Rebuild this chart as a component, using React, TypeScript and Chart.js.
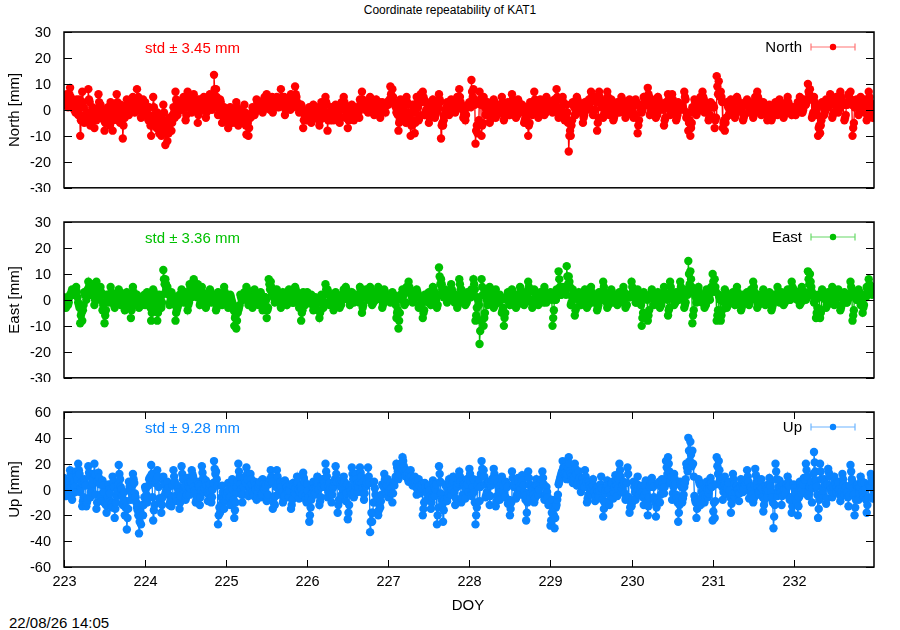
import React, { useEffect, useRef } from "react";
import { Chart, registerables } from "chart.js";

Chart.register(...registerables);

const FONT = "'Liberation Sans', Arial, sans-serif";
Chart.defaults.font.family = FONT;
Chart.defaults.color = "#000";

// time axis: first day of year and samples per day in each array
const startDoy = 223;
const samplesPerDay = 40;
const doyTicks = [223, 224, 225, 226, 227, 228, 229, 230, 231, 232];
const neTicks = [-30, -20, -10, 0, 10, 20, 30];
const upTicks = [-60, -40, -20, 0, 20, 40, 60];

// residuals in mm, one row per day; three interleaved sample sets per component
const north = [
  2, 5, 1, 8.5, 4, 0, 3, -2, -10, 7, -5, -3, 8, -6, 1, -7, -4, 6, 2, -3, -8, 0, -5, 3, -8, -1, 6, -4, 2, -11, -3, 4, -2, 1, 5, -1, 8, 2, -3, 4,
  3, -2, 1, -10, 5, -4, -1, -9, -10, 2, -13.5, -12, -3, -8, 1, 7, -2, 3, 0, 5, -4, 7, 2, -1, 6, 3, -5, 4, 1, 5, -3, 2, 6, 0, 13.5, 8, -2, 4, -5, 1,
  -3, -7, 1, -5, -2, 3, -6, 0, -4, 2, -9.5, -10, -3, 1, -2, 4, 0, 3, -1, 5, 6, 2, 4, -1, 3, 5, 1, 8, 3, -2, 4, 2, 6, 1, 9, 3, -1, 2, -7, -3,
  -2, 1, -5, 2, -3, 0, -6, 3, -1, 5, -8, -2, 1, -4, 2, -1, -5, 3, 5, -3, -7, 0, 2, -4, 1, -2, 4, 7, 1, 3, -1, 5, 2, -2, 4, 1, -3, 3, 0, 2,
  2, 9, 8, 3, -1, -8, 4, 1, -3, 5, -2, -10, 2, -9, 5, -4, 6, 7, -2, 3, -5, 1, 4, -3, 2, 6, -11, -6, 0, 3, -2, 4, 1, -1, 5, 8, 2, -3, -4, 1,
  3, 11.5, 8, -13, -9, 7, -10, 5, -2, 3, -5, 1, 4, -3, 2, -1, 5, -4, 0, 3, -2, 6, 1, -3, 4, -1, 2, -5, 1, -10, 3, -2, 7, 0, -3, 4, 1, -2, 5, 2,
  2, -1, 4, 8, -3, 1, 5, -4, 2, -16, -10, 3, -2, 5, -1, 2, -5, 3, 0, 4, 7, -2, 5, -8, 7, 1, -3, 3, 7, -2, 4, -4, 1, 3, -1, 5, 2, -3, 0, 4,
  1, -3, 4, -9, 2, -1, 5, 3, 8.5, -2, 4, 1, -3, 5, 0, 2, -6, 3, 6, -2, 6, 1, -4, 3, 0, 2, 7, -3, -8, -10, 1, 4, -2, 3, 5, 7, -1, 2, -4, 3,
  2, -7, 13, 11, 7, -7, -8, 3, -2, 4, 1, -3, 5, 0, 2, -4, 3, 4, -1, 2, -3, 5, 7, 1, -2, 3, 0, -4, 2, -4, 1, 3, -2, 4, 0, -3, 2, 5, 1, -2,
  1, -2, 3, 5, -1, 4, 2, 10, 8, -3, 5, 1, -10, -9, 3, -2, 4, 1, 6, -3, 2, 5, -1, 7, 3, -4, 2, 6, 7, -10, 1, 4, -2, 5, 3, -1, -4, 7, 0, -3,
];
const northB = [
  3, 6, 2, 5, 2, 1, 4, 0, -4, 3, -2, -4, 4, -3, 0, -3, -1, 3, 0, -2, -5, -1, -3, 1, -4, 0, 3, -2, -1, -6, -1, 2, 0, 2, 3, 0, 4, 3, -1, 1,
  1, -3, -2, -6, 1, -5, -3, -6, -7, -1, -9, -7, -4, -5, -1, 4, 0, 2, 1, 3, -2, 4, 3, 1, 4, 2, -2, 3, 2, 3, -1, 0, 4, 2, 8, 5, 1, 3, -2, -1,
  -2, -5, 0, -3, -4, 1, -4, -2, -3, -1, -6, -7, -2, -1, -1, 3, 1, 2, 0, 3, 4, 1, 3, 1, 2, 3, 2, 5, 2, 0, 2, 1, 4, 3, 6, 2, 0, 1, -4, -2,
  -3, 0, -3, 0, -1, -2, -4, 1, -2, 3, -4, -3, 0, -3, 1, 0, -3, 1, 3, -2, -4, -1, 1, -2, 0, -1, 3, 4, 2, 1, 0, 3, 1, 0, 2, 2, -1, 2, 1, 3,
  3, 6, 5, 2, -1, -5, 2, 0, -4, 3, -1, -6, 0, -5, 3, -3, 4, 5, -1, 2, -3, 0, 3, -2, 1, 4, -6, -4, -1, 2, -1, 2, 1, 0, 3, 5, 1, -2, -2, 2,
  2, 7, 4, -8, -6, 4, -6, 3, -1, 1, -4, 0, 3, -2, 1, 0, 3, -3, 1, 2, -1, 4, 0, -2, 3, 1, 0, -4, 0, -6, 1, 0, 4, 1, -2, 3, 0, -1, 4, 2,
  1, 0, 2, 5, -2, 0, 3, -3, -1, -10, -6, 2, -2, 4, 0, 1, -3, 2, 1, 2, 5, -1, 4, -5, 5, 2, -2, 1, 5, -1, 3, -3, 0, 2, 0, 4, 1, -2, 1, 3,
  0, -2, 3, -6, 1, 0, 4, 2, 6, -1, 3, 0, -2, 4, 1, 1, -4, 2, 4, -1, 4, 0, -3, 2, 1, 1, 5, -2, -5, -7, 0, 3, -1, 2, 4, 5, 0, 1, -3, 2,
  1, -4, 9, 7, 5, -5, -5, 2, -1, 3, 0, -2, 4, 0, 1, -3, 2, 3, 0, 1, -2, 3, 5, 1, -1, 2, 0, -3, 1, -3, 0, 2, -1, 3, 0, -2, 2, 3, 0, -1,
  0, -1, 2, 4, -1, 3, 3, 7, 5, -2, 3, 0, -7, -6, 2, -1, 3, 2, 5, -2, 2, 3, 0, 5, 2, -3, 2, 5, 4, -7, 1, 3, -1, 3, 3, 0, -2, 5, 0, -2,
];
const northC = [
  4, 2, 6, 3, 1, -1, 2, 4, -3, 1, -4, -1, 3, -5, -2, 0, -3, 2, -1, -4, -2, 1, -6, -1, -3, 2, -2, -5, 0, -3, 1, 3, -1, 4, 2, 3, 5, 1, 0, 2,
  -1, -4, -6, -3, -2, -7, -5, -3, -8, -4, -6, -9, -5, -2, -3, 3, 1, 0, 4, 2, 1, 3, 5, 0, 2, 4, -1, 2, 3, 0, 4, 1, 3, 5, 2, 3, -1, 1, -3, -2,
  -1, -4, -2, 0, -5, -3, -1, -4, -2, -6, -5, -3, -1, -2, 0, 2, 3, 1, 4, 2, 3, 0, 5, 2, 1, 4, 3, 2, 5, 1, 3, 0, 4, 2, 5, 1, 2, 0, -2, -4,
  -1, -3, 0, -2, 1, -4, -2, 0, -3, 2, -1, -4, 0, -2, -1, 1, -3, 0, 2, -1, -4, -2, 1, -1, 0, -3, 2, 3, 0, 2, 1, 3, -1, 2, 0, 3, 1, 2, -1, 3,
  4, 5, 3, 1, -2, -4, 0, -1, -5, 2, -3, -6, -1, -4, 1, -2, 3, 4, 0, 1, -2, 0, 2, -1, 1, 3, -5, -2, 1, 2, 0, 3, 2, 1, 4, 3, 0, -1, 1, 2,
  1, 5, 2, -6, -4, 2, -5, 1, 0, 2, -3, -1, 2, -2, 0, 1, 3, -2, -1, 2, 0, 3, -1, -2, 2, 0, 1, -3, -2, -5, 0, 1, 3, -1, -2, 2, 0, -1, 3, 1,
  0, 1, 3, 4, -1, -2, 2, -3, -5, -8, -4, 1, -1, 3, 0, 1, -2, 2, 1, 3, 4, 0, 3, -3, 4, 2, -1, 2, 4, 0, 2, -2, 0, 2, 1, 3, 0, -2, 1, 2,
  -1, -2, 2, -4, 0, 1, 3, 2, 5, 0, 2, -1, -2, 3, 1, 0, -3, 1, 3, 0, 3, -1, -2, 1, 2, 0, 4, -1, -4, -5, -1, 2, 0, 1, 3, 4, 1, 0, -2, 1,
  1, -3, 6, 5, 3, -4, -3, 1, 0, 2, -1, 0, 3, 1, -1, -2, 2, 1, 0, 3, -1, 2, 4, 2, 0, 1, -1, -2, 1, -2, 2, 1, 0, 2, -1, -1, 3, 2, 0, -1,
  0, 1, 2, 3, 0, 2, 4, 6, 4, -1, 2, -2, -6, -4, 1, 0, 2, 3, 4, -1, 3, 2, 1, 4, 2, -2, 3, 4, 2, -5, 2, 3, 0, 2, 4, 1, -1, 3, 1, -1,
];

const east = [
  1, -3, -2, 2, 4, 3, 5, -1, -9, -8, 3, 0, 7, 2, 6, -2, 7, 1, 5, -4, -9, 2, -1, 5, 0, -3, 2, 4, -2, 1, -4, 3, 0, -7, 5, -1, 2, -3, 1, 0,
  -2, 3, 0, -8, 4, 1, -8, 2, -3, 11.5, 8, 5, -2, 3, 0, -8, -3, 2, 4, -1, 3, -4, 6, 1, 8, 2, 6, -2, 5, 0, -3, 2, 4, -1, 1, -4, 3, 0, -2, 5,
  1, -3, 2, -1, -10, -11, -4, 2, 0, 3, 5, -2, 1, -3, 4, 0, -2, 3, -4, 1, -7, 8, 7, 2, -1, 4, 1, -3, 3, 0, -2, 4, 1, -1, 5, 2, -3, -8, 3, -2,
  3, -1, 2, -4, 1, 0, -7, 2, -3, 6, 4, -2, 1, -4, 3, 0, -3, 2, 4, 5, 1, -2, 3, -1, 2, 0, 5, -5, 2, 4, 1, 5, -2, 3, 0, 5, 2, -3, 4, 1,
  2, -1, 3, 0, -7, -11, 2, 4, -2, 5, 7, 3, -1, 2, 4, -3, 1, -7, 2, 0, 3, -2, 5, 1, -3, 12.5, 8, 2, 4, -1, 3, 6, 0, 2, -3, 8, 4, 1, -2, 3,
  2, 4, 8, -8, 1, -17, 8, -10, 3, -2, 5, 1, -3, 4, 0, 2, -5, -10, 1, 3, -2, 4, 0, -3, 2, 5, 1, -2, 3, 7, 0, -3, 4, 1, -2, 3, 0, 5, -1, 2,
  3, -10, 1, 4, 11, 2, 5, 3, 13, 9, -2, 4, -6, 1, 3, -2, 0, 4, -3, 2, 5, -1, 2, -4, 3, 1, 7, 0, -3, 2, 4, -1, 1, -2, 3, 0, 5, -3, 2, 1,
  7, 2, -1, 4, 0, -10, 3, 1, -8, 2, 4, -2, 1, 3, -3, 0, 5, 2, -6, 7, 1, -2, 3, 0, 7, 2, -3, 4, 15, 11, -9, 3, -1, 5, 0, 2, -3, 4, 1, 3,
  10, 8, -8, 2, -8, 1, 4, -3, 2, 0, 3, -2, 5, 1, -4, 2, 0, 3, -2, 4, 7, 1, -3, 2, 0, 4, -2, 1, 3, -4, 2, 0, 5, -1, 3, -2, 1, 4, 0, 7,
  4, 1, 3, -2, 5, 2, 0, 11, 10, 3, -1, -7, 2, -7, 4, 1, -3, 3, 0, 5, -2, 2, 4, -4, 1, 3, -1, 2, 7, -8, 3, 0, 4, -2, -5, 2, 5, 8, 3, 5,
];
const eastB = [
  0, -2, -1, 2, 3, 4, 3, -2, -6, -4, 2, 2, 5, 2, 5, 0, 4, 1, 3, -2, -6, 1, 0, 3, -1, -2, 1, 3, -1, 0, -3, 2, -1, -4, 3, 0, 1, -2, 0, 1,
  -1, 2, -1, -5, 3, 0, -5, 1, -1, 8, 6, 3, -1, 2, -1, -5, -2, 1, 3, 0, 2, -2, 5, 2, 6, 2, 4, -1, 3, 0, -2, 1, 3, 0, 0, -3, 2, 0, -1, 3,
  0, -2, 1, -2, -7, -8, -3, 1, 0, 2, 4, -1, 1, -2, 3, 0, -1, 2, -3, 1, -4, 6, 5, 1, 0, 3, 0, -2, 2, 0, -1, 3, 0, -1, 4, 1, -2, -5, 1, -1,
  2, 0, 1, -3, 0, -1, -5, 1, -2, 4, 3, -1, 0, -3, 2, 0, -2, 1, 3, 4, 0, -1, 2, 0, 1, 0, 4, -3, 1, 3, 0, 4, -1, 2, 1, 4, 1, -2, 3, 0,
  1, 0, 2, -1, -5, -8, 1, 3, -1, 4, 5, 2, 0, 1, 3, -2, 0, -5, 1, 0, 2, -1, 4, 1, -2, 9, 6, 1, 3, 0, 2, 4, 0, 1, -2, 6, 3, 0, -1, 2,
  1, 3, 6, -6, 0, -12, 5, -7, 1, -1, 3, 0, -2, 2, 0, 1, -4, -7, 0, 2, -1, 3, 0, -2, 1, 4, 0, -1, 2, 5, 0, -2, 3, 0, -1, 2, 0, 3, 0, 1,
  1, -7, 0, 3, 8, 2, 4, 3, 9, 7, -1, 3, -4, 1, 2, -1, 0, 3, -2, 1, 3, 0, 1, -3, 2, 1, 5, 0, -2, 1, 3, 0, 0, -1, 2, 0, 3, -2, 1, 2,
  5, 2, -1, 3, -1, -7, 2, 1, -6, 1, 3, -1, 1, 2, -2, 0, 3, 1, -4, 5, 1, -1, 2, 0, 5, 2, -2, 3, 10, 8, -6, 2, 0, 3, 0, 1, -2, 3, 1, 5,
  7, 5, -6, 1, -6, 0, 3, -2, 1, 0, 2, -1, 3, 1, -3, 1, 0, 2, -1, 3, 5, 1, -2, 1, 0, 3, -1, 1, 2, -3, 1, 0, 3, 0, 2, -1, 1, 3, 0, 5,
  3, 1, 2, -1, 3, 2, 1, 8, 7, 2, 0, -5, 1, -5, 3, 1, -2, 2, 0, 3, -1, 1, 3, -3, 1, 2, -1, 2, 5, -6, 2, 0, 3, -1, -3, 1, 4, 6, 3, 4,
];
const eastC = [
  0, -1, 1, 3, 2, 4, 1, -3, -5, -2, 2, 4, 5, 3, 4, 1, 3, 0, 2, -1, -4, 0, 1, 2, -2, -1, 1, 3, -1, 0, -2, 1, -3, -2, 2, 0, -1, 1, -2, 2,
  0, 1, -3, -4, 2, -2, -4, 0, 2, 6, 4, 2, 0, 1, -2, -4, -1, 1, 2, 0, 2, -1, 4, 3, 5, 1, 3, 0, 2, -1, -1, 1, 2, 0, -1, -2, 1, -1, 0, 2,
  -1, -2, 0, -4, -6, -5, -2, 0, 1, 2, 3, -1, 0, -2, 2, -1, 0, 1, -2, 0, -3, 4, 3, 1, 0, 2, -1, -2, 1, -1, 0, 2, -1, 0, 3, 1, -2, -4, 0, -1,
  1, 0, -2, -3, 0, -1, -4, 0, -1, 3, 2, 0, -1, -2, 1, -1, -2, 0, 2, 3, 0, -1, 2, 0, 1, -1, 3, -2, 1, 2, 0, 3, -1, 1, 2, 3, 0, -1, 2, 0,
  1, 0, 2, -2, -4, -5, 0, 2, -1, 3, 4, 1, 0, 1, 2, -2, -1, -4, 1, -1, 2, 0, 3, 0, 2, 6, 4, 1, 2, 0, 1, 3, -1, 1, -1, 4, 2, 0, -1, 1,
  1, 3, 4, -3, -2, -8, 2, -5, 0, -1, 2, 0, -2, 1, -1, 0, -3, -5, 0, 1, -1, 2, -1, -2, 0, 3, 0, -1, 1, 3, -1, -2, 2, 0, -1, 1, -1, 2, 0, 1,
  0, -4, 0, 2, 5, 3, 4, 2, 6, 5, 1, 2, -3, 0, 1, -1, 1, 2, -2, 0, 2, 0, 1, -2, 1, 0, 3, -1, -2, 1, 2, 0, -1, 0, 1, -1, 2, -2, 1, 2,
  3, 1, 0, 2, -2, -5, 1, 0, -4, 1, 2, -1, 0, 1, -2, 1, 2, 0, -3, 3, 0, -1, 2, 1, 3, 1, -1, 2, 6, 5, -4, 1, 0, 2, -1, 1, -2, 2, 0, 3,
  5, 3, -4, 0, -4, -1, 2, -2, 0, 1, 1, -1, 2, 0, -2, 1, -1, 2, 0, 2, 3, 0, -2, 1, -1, 2, 0, -1, 1, -2, 0, 1, 2, 0, 1, -1, 0, 2, 1, 3,
  2, 0, 1, -1, 2, 3, 1, 6, 5, 2, 0, -3, 1, -4, 2, 0, -2, 1, 1, 2, -1, 1, 2, -2, 0, 2, 0, 1, 3, -4, 1, 0, 2, -1, -2, 1, 3, 5, 2, 3,
];

const up = [
  9, -5, 3, 15, -8, 6, 14, 20, -2, -13, 8, -13, 18, -6, 5, 20, -15, 13, -4, 7, -10, -18, 4, -9, 10, -22, -5, 19, 2, -12, -20, -31, 6, -8, 12, -3, -14, -34, -27, -20,
  2, -10, 8, 19, -24, 5, 15, -7, -18, 10, -3, 6, -12, -13, 15, -5, 3, -15, 18, 0, -8, 9, -4, 15, 2, -10, 6, -12, 18, -2, 7, -9, 4, -6, 22, 14, -27, -18, 3, -15,
  -8, 5, -12, 8, -22, -3, 20, 4, -10, 9, 17, -5, 12, -2, 6, -8, 2, -6, 8, 0, -9, 4, 15, -15, -12, 15, -4, 6, -10, 7, 2, -6, -15, 5, -3, 10, -7, 3, 13, -5,
  4, -25, -8, 6, -3, 10, -12, 2, 8, 20, -6, 5, -10, 3, 18, -18, 7, -4, 10, -9, -23, 2, 17, -6, 12, -2, 17, 5, -8, 3, 17, -33, -25, 6, -10, -20, -14, 4, 12, -3,
  -6, 5, -10, 3, 20, 8, 20, 25, 12, 15, 6, 15, 3, 10, -4, 8, -2, -20, 5, -8, 3, -15, 7, -5, -27, 18, -3, -25, 4, -9, 8, -4, 10, -12, 2, 14, -10, 6, -7, 4,
  16, -5, 8, -27, 3, -9, 22, 15, -6, 4, -12, 7, 16, -13, 5, -8, 10, -3, 6, -11, -20, 14, 2, -7, 9, -4, 11, -2, -24, 14, -6, 3, -10, 8, -4, 6, 14, -8, 2, -12,
  -28, -8, -30, -12, 4, 10, 22, 17, 8, 25, 12, 5, 20, 3, 14, -2, 9, 15, -10, 6, -4, 8, -9, 2, -6, 10, -21, -3, 7, -12, 4, -7, 11, -5, 20, -2, 6, -8, 17, -18,
  -13, 6, -8, 10, -4, 3, -12, 7, -20, 2, 9, -6, -21, 4, -10, 8, -3, 22, 25, 5, -8, 12, -4, -25, 6, -10, 2, 20, 40, 37, 30, -5, -22, 8, -12, 4, -10, 6, -3, 9,
  -24, -22, 25, 22, 6, -8, 10, -3, 5, -18, 12, -6, 3, -9, 8, -2, 4, 15, -7, 2, -10, 16, 5, -4, 8, -17, 3, -6, 9, -2, -30, 20, -5, 7, -12, 4, -3, 10, -8, -18,
  4, -8, -20, 6, -3, 9, 20, -5, 2, -10, 29, 7, -22, 20, -4, 8, -11, 16, 3, -6, 10, -2, 5, -9, 12, -4, 2, -13, 19, 6, -20, 3, -8, 10, -2, 5, -18, 4, 12, -7,
];
const upB = [
  5, 0, 1, 12, -3, 2, 10, 15, 1, -9, 5, -10, 13, -2, 8, 12, -10, 9, -6, 3, -11, -12, 0, -11, 6, -15, -1, 12, 0, -8, -14, -22, 2, -3, 8, -6, -16, -25, -20, -12,
  0, -6, 9, 12, -16, 6, 10, -8, -12, 6, -2, 1, -10, -6, 10, -7, 0, -10, 12, 2, -6, 5, 1, 12, -1, -8, 4, -6, 13, 1, 3, -4, -2, 0, 16, 8, -20, -12, -2, -9,
  -5, 0, -5, 0, -16, 2, 14, 0, -4, 7, 12, -2, 8, -4, 3, -5, 4, -4, 4, 2, -6, 6, 10, -10, -5, 10, -1, 2, -8, 4, -1, -1, -12, 2, 1, 5, -2, 0, 9, -8,
  -1, -20, -3, 1, 1, 5, -9, 5, 5, 14, -2, 1, -4, 6, 12, -12, 4, 1, 6, -3, -18, -1, 12, -2, 8, 2, 13, 1, -3, 5, 10, -25, -18, 1, -8, -16, -9, 3, 8, 3,
  -2, 1, -3, 7, 17, 10, 18, 22, 11, 12, 9, 10, 6, 6, 0, 3, 1, -15, 2, -3, -1, -10, 4, 0, -20, 12, -8, -16, 3, -6, 5, 0, 6, -7, 5, 10, -7, 4, 1, 8,
  12, -2, -2, -20, 5, 2, 16, 10, -4, 5, -5, 8, 12, -9, 2, -2, 7, -5, 4, -10, -15, 9, 4, -5, 5, 0, 7, -5, -18, 9, -2, 0, -7, 3, 0, 7, 9, -6, -2, -11,
  -24, -14, -22, -8, 6, 12, 17, 13, 12, 20, 10, 8, 16, 5, 9, 3, 5, 10, -7, 3, 0, 3, -5, -2, -1, 1, -15, 0, 3, -8, 5, -2, 7, 1, 15, 1, 5, -7, 12, -14,
  -10, 2, -2, 3, -1, -2, -4, -2, -13, 4, 5, -8, -14, 5, -4, 4, 2, 17, 20, 7, -3, 8, -7, -18, 4, -7, 5, 17, 30, 27, 20, -8, -15, 6, -7, 0, -6, 0, 0, 5,
  -17, -9, 18, 15, 4, -2, 6, 1, -1, -11, 8, -2, 0, -3, 5, 1, 6, 10, -2, -1, -7, 11, 1, -1, 1, -12, 0, -1, 5, -6, -21, 14, -1, 2, -5, 0, 0, 6, -7, -13,
  1, -9, -13, 4, 0, 8, 15, -1, 4, 1, 21, 2, -15, 14, -1, 5, -7, 13, 0, -2, 7, 2, 0, -5, 8, -1, -2, -5, 14, 1, -14, 3, -3, 7, -4, 0, -12, 3, 9, -5,
];
const upC = [
  2, 6, -3, 9, 4, -2, 8, 12, 5, -6, 3, -8, 10, 2, 12, -4, 6, 4, -9, -2, -12, -6, -3, -14, 2, -10, 4, 8, -5, -2, -9, -15, -1, 3, 5, -10, -20, -18, -12, -6,
  -4, 3, 10, -6, -12, 8, 2, -10, -6, 4, 0, -4, -8, 3, 6, -9, -2, -5, 8, 3, -4, 2, 6, 10, -3, -6, 2, -1, 9, 4, -2, 0, -10, 5, 12, 3, -14, -6, -8, -3,
  -2, -6, 3, -8, -10, 6, 10, -4, 2, 5, 8, 2, 4, -5, 0, -2, 6, -3, 1, 4, -4, 8, 6, -6, 2, 5, 3, -2, -5, 1, -3, 4, -8, -2, 5, 0, 2, -4, 6, -10,
  -6, -14, 2, -4, 5, 0, -6, 8, 2, 10, 3, -4, 1, 8, 6, -8, 2, 5, -3, 4, -12, -4, 8, 3, 4, 6, 10, -3, 2, 8, 5, -18, -10, -4, -6, -12, -4, 2, 5, 8,
  2, -3, 4, 10, 14, 12, 16, 18, 10, 8, 12, 6, 9, 2, 5, -3, 4, -10, -2, 3, -5, -6, 2, 4, -14, 6, -12, -8, 2, -3, 3, 5, -2, 4, 8, 6, -4, 2, 8, -2,
  6, 2, -10, -14, 8, 12, 10, 4, -2, 6, 3, 9, 8, -5, -2, 4, 3, -6, 2, -8, -10, 4, 7, -3, 2, 5, 3, -8, -10, 4, 2, -4, 3, -2, 5, 8, 4, -3, -6, -10,
  -18, -20, -14, -4, 8, 14, 12, 10, 16, 14, 8, 10, 12, 6, 4, 8, 2, 6, -4, 1, 3, -2, 2, -5, 4, -8, -10, 2, 0, -5, 6, 2, 3, 8, 10, 4, -3, 5, -6, -10,
  -8, -2, 4, -4, 2, -6, 3, -10, -6, 5, 2, -10, -8, 6, 2, 1, 8, 12, 14, 10, 2, 4, -10, -12, 2, -4, 8, 14, 22, 18, 10, -10, -8, 4, -2, -4, 2, -6, 4, 2,
  -10, 4, 12, 8, 2, 3, 2, 6, -6, -4, 4, 2, -3, 2, 3, 5, 8, 6, 2, -4, 3, 6, -2, 2, -6, -8, -2, 4, 2, -10, -12, 8, 2, -2, 2, -4, 4, 3, -6, -8,
  -2, -10, -6, 2, 4, 8, 10, 2, 6, 12, 14, -4, -8, 8, 2, 3, 4, 10, -2, 2, 4, 6, -4, -2, 4, 2, -6, 3, 8, -4, -8, 4, 2, 5, -6, -8, -6, 2, 6, -2,
];

// interleave the sample sets along the time axis
const toPoints = (sets: number[][]) => {
  const pts: { x: number; y: number }[] = [];
  const n = sets[0].length;
  for (let i = 0; i < n; i++) {
    sets.forEach((s, k) => {
      if (i < s.length) pts.push({ x: startDoy + (i + k / sets.length) / samplesPerDay, y: s[i] });
    });
  }
  return pts;
};

type PanelProps = {
  top: number;
  height: number;
  sets: number[][];
  color: string;
  barColor: string;
  yTicks: number[];
  name: string;
  axisTitle: string;
  std: string;
  showX: boolean;
};

const Panel = (p: PanelProps) => {
  const ref = useRef<HTMLCanvasElement | null>(null);

  useEffect(() => {
    if (!ref.current) return;
    const ctx = ref.current.getContext("2d");
    if (!ctx) return;

    const frame = {
      id: "frame",
      afterDatasetsDraw(chart: any) {
        const { ctx: c, chartArea: a, scales } = chart;
        c.save();
        c.strokeStyle = "#000";
        c.fillStyle = "#000";
        c.lineWidth = 1;
        c.font = `14.5px ${FONT}`;
        c.textBaseline = "middle";
        c.textAlign = "right";
        // y ticks on both sides, pointing inward, labels on the left
        for (const v of p.yTicks) {
          const y = Math.round(scales.y.getPixelForValue(v)) + 0.5;
          c.beginPath();
          c.moveTo(a.left, y);
          c.lineTo(a.left + 8, y);
          c.moveTo(a.right, y);
          c.lineTo(a.right - 8, y);
          c.stroke();
          c.fillText(String(v), a.left - 13, y);
        }
        if (p.showX) {
          c.textAlign = "center";
          for (const v of doyTicks) {
            const x = Math.round(scales.x.getPixelForValue(v)) + 0.5;
            c.beginPath();
            c.moveTo(x, a.top);
            c.lineTo(x, a.top + 7);
            c.moveTo(x, a.bottom);
            c.lineTo(x, a.bottom - 7);
            c.stroke();
            c.fillText(String(v), x, a.bottom + 15);
          }
        }
        c.lineWidth = 1.5;
        c.strokeRect(a.left, a.top, a.right - a.left, a.bottom - a.top);

        // axis title
        c.font = `15px ${FONT}`;
        c.textAlign = "center";
        c.save();
        c.translate(15, (a.top + a.bottom) / 2);
        c.rotate(-Math.PI / 2);
        c.fillText(p.axisTitle, 0, 0);
        c.restore();

        // std note
        c.fillStyle = p.color;
        c.textAlign = "left";
        c.fillText(p.std, a.left + 81, a.top + 16.5);

        // legend
        const ly = a.top + 15;
        c.fillStyle = "#000";
        c.textAlign = "right";
        c.fillText(p.name, 802, ly + 1);
        c.strokeStyle = p.barColor;
        c.lineWidth = 1.2;
        c.beginPath();
        c.moveTo(811, ly);
        c.lineTo(855, ly);
        c.moveTo(811, ly - 3.5);
        c.lineTo(811, ly + 3.5);
        c.moveTo(855, ly - 3.5);
        c.lineTo(855, ly + 3.5);
        c.stroke();
        c.fillStyle = p.color;
        c.beginPath();
        c.arc(833, ly, 3.2, 0, Math.PI * 2);
        c.fill();
        c.restore();
      },
    };

    const chart = new Chart(ctx, {
      type: "line",
      data: {
        datasets: [
          {
            data: toPoints(p.sets),
            borderColor: p.color,
            backgroundColor: p.color,
            borderWidth: 1.3,
            pointRadius: 4.2,
            pointBorderWidth: 0,
            pointStyle: "circle",
            clip: 0,
          },
        ],
      },
      options: {
        responsive: false,
        animation: false,
        events: [],
        layout: { padding: { top: 10, right: 26, left: 64, bottom: p.showX ? 35 : 0 } },
        plugins: { legend: { display: false }, tooltip: { enabled: false } },
        scales: {
          x: { type: "linear", min: startDoy, max: 232.99, display: false },
          y: {
            type: "linear",
            min: p.yTicks[0],
            max: p.yTicks[p.yTicks.length - 1],
            display: false,
          },
        },
      },
      plugins: [frame],
    });

    return () => {
      chart.destroy();
    };
  }, []);

  return (
    <div style={{ position: "absolute", left: 0, top: p.top, width: 900, height: p.height }}>
      <canvas ref={ref} width={900} height={p.height} style={{ width: 900, height: p.height }} />
    </div>
  );
};

const App = () => {
  return (
    <div
      style={{
        position: "absolute",
        left: 0,
        top: 0,
        width: 900,
        height: 630,
        background: "#fff",
        fontFamily: FONT,
        color: "#000",
        overflow: "hidden",
      }}
    >
      <div style={{ position: "absolute", left: 0, top: 3, width: 900, textAlign: "center", fontSize: 12, lineHeight: "14px" }}>
        Coordinate repeatability of KAT1
      </div>
      <Panel
        top={22}
        height={170}
        sets={[north, northB, northC]}
        color="#ff0000"
        barColor="rgba(255,0,0,0.55)"
        yTicks={neTicks}
        name="North"
        axisTitle="North [mm]"
        std="std ± 3.45 mm"
        showX={false}
      />
      <Panel
        top={212}
        height={170}
        sets={[east, eastB, eastC]}
        color="#00c000"
        barColor="rgba(0,192,0,0.6)"
        yTicks={neTicks}
        name="East"
        axisTitle="East [mm]"
        std="std ± 3.36 mm"
        showX={false}
      />
      <Panel
        top={402}
        height={200}
        sets={[up, upB, upC]}
        color="#0a84ff"
        barColor="rgba(10,132,255,0.6)"
        yTicks={upTicks}
        name="Up"
        axisTitle="Up [mm]"
        std="std ± 9.28 mm"
        showX={true}
      />
      <div style={{ position: "absolute", left: 418, top: 596, width: 100, textAlign: "center", fontSize: 15, lineHeight: "18px" }}>
        DOY
      </div>
      <div style={{ position: "absolute", left: 9, top: 614, fontSize: 15, lineHeight: "18px" }}>22/08/26 14:05</div>
    </div>
  );
};

export default App;
